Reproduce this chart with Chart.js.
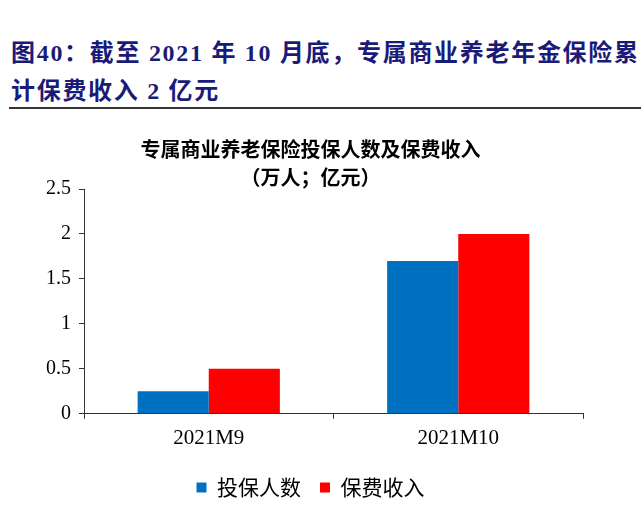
<!DOCTYPE html>
<html>
<head>
<meta charset="utf-8">
<script src="https://cdn.jsdelivr.net/npm/chart.js@4"></script>
<style>
  html, body { margin: 0; padding: 0; background: #fff; }
  body { width: 641px; height: 528px; position: relative; overflow: hidden; }
  #head {
    position: absolute; left: 11px; top: 34px;
    font: bold 24px "Liberation Serif", "Noto Sans CJK SC", serif;
    color: #1a1a78; line-height: 38px; letter-spacing: 1.7px; white-space: nowrap;
  }
  #rule { position: absolute; left: 9px; right: 0; top: 107px; height: 2px; background: #333; }
  #wrap { position: absolute; left: 0; top: 115px; }
</style>
</head>
<body>
<div id="head">图40：截至 2021 年 10 月底，专属商业养老年金保险累<br>计保费收入 2 亿元</div>
<div id="rule"></div>
<div id="wrap"><canvas id="c" width="641" height="413"></canvas></div>
<script>
let months = ["2021M9", "2021M10"];
let insured = [0.25, 1.7];    // 投保人数（万人）
let premium = [0.5, 2.0];     // 保费收入（亿元）
let yTicks = [0, 0.5, 1, 1.5, 2, 2.5];

const serif = "'Liberation Serif', 'Noto Sans CJK SC', serif";
const cjk = "'Noto Sans CJK SC', sans-serif";

new Chart("c", {
  type: 'bar',
  data: {
    labels: months,
    datasets: [{
      label: '投保人数',
      data: insured,
      backgroundColor: '#0070C0',
      borderWidth: 0
    }, {
      label: '保费收入',
      data: premium,
      backgroundColor: '#FF0000',
      borderWidth: 0
    }]
  },
  options: {
    responsive: false,
    animation: false,
    devicePixelRatio: 1,
    categoryPercentage: 0.57,
    barPercentage: 1,
    layout: { padding: { left: 38, right: 58, top: 0, bottom: 20 } },
    plugins: {
      title: {
        display: true,
        text: '专属商业养老保险投保人数及保费收入',
        color: '#000',
        font: { family: cjk, size: 20, weight: 'bold' },
        padding: { top: 22, bottom: 4 }
      },
      subtitle: {
        display: true,
        text: '（万人；亿元）',
        color: '#000',
        font: { family: cjk, size: 20, weight: 'bold' },
        padding: { top: 0, bottom: 0 }
      },
      legend: {
        position: 'bottom',
        labels: {
          color: '#000',
          boxWidth: 10,
          boxHeight: 10,
          padding: 19,
          font: { family: cjk, size: 21 }
        }
      },
      tooltip: { enabled: false }
    },
    scales: {
      x: {
        grid: { drawOnChartArea: false, drawTicks: true, tickLength: 5, color: '#333', offset: true },
        border: { display: true, color: '#333', width: 1 },
        ticks: { color: '#000', padding: 7, font: { family: serif, size: 21 } }
      },
      y: {
        min: 0,
        max: 2.5,
        afterBuildTicks: axis => { axis.ticks = yTicks.map(v => ({ value: v })); },
        grid: { drawOnChartArea: false, drawTicks: true, tickLength: 5, color: '#333' },
        border: { display: true, color: '#333', width: 1 },
        ticks: { color: '#000', padding: 8, font: { family: serif, size: 20 }, callback: v => String(v) }
      }
    }
  }
});
</script>
</body>
</html>
